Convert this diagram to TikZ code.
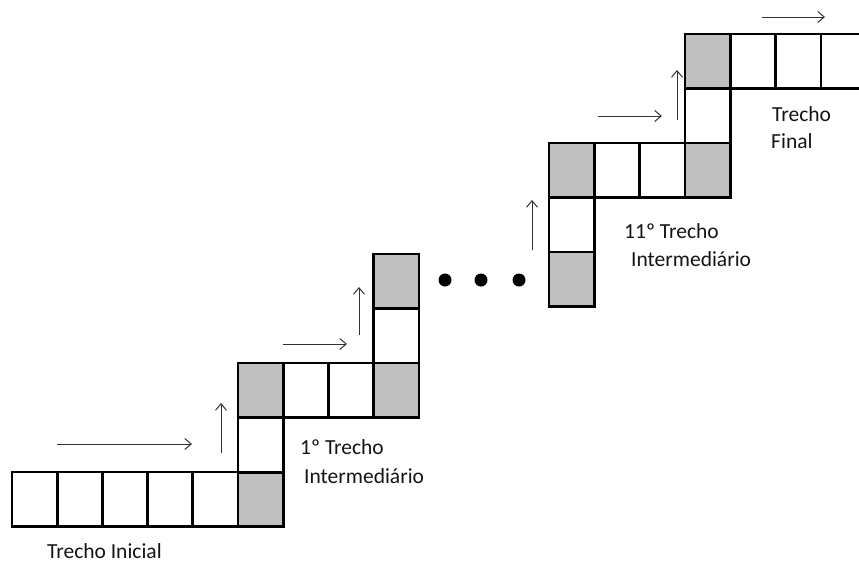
\documentclass[tikz,border=0pt]{standalone}
\usepackage{fontspec}
\setmainfont{Carlito}
\usetikzlibrary{positioning,arrows.meta}
\definecolor{tcGray}{RGB}{192,192,192}
\definecolor{tcArrow}{RGB}{50,50,50}
\definecolor{tcText}{RGB}{20,20,20}

\begin{document}
\begin{tikzpicture}[x=1pt, y=-1pt,
  cell/.style={draw, line width=2.7pt, minimum width=45.3pt, minimum height=54.5pt,
    inner sep=0pt, outer sep=0pt, anchor=north west},
  shaded/.style={cell, fill=tcGray},
  move/.style={-{Straight Barb[length=6.5pt,width=11pt]}, tcArrow, line width=1pt},
  dot/.style={circle, fill=black, minimum size=13pt, inner sep=0pt},
  lbl/.style={anchor=west, text=tcText, font=\fontsize{21.5}{25}\selectfont, inner sep=0pt}]
  \useasboundingbox (0,0) rectangle (859,565);
  \clip (0,0) rectangle (859,565);

  % Trecho inicial
  \foreach \i in {0,...,4}
    \node[cell] (ini\i) at ({12+45.2*\i},472) {};
  \node[shaded] (ini5) at (238,472) {};

  % 1o trecho intermediario
  \node[cell] (pa1) at (238,418) {};
  \node[shaded] (pa2) at (238,363) {};
  \node[cell] (pa3) at (283.3,363) {};
  \node[cell] (pa4) at (328.5,363) {};
  \node[shaded] (pa5) at (373.7,363) {};
  \node[cell] (pa6) at (373.7,308.5) {};
  \node[shaded] (pa7) at (373.7,254) {};

  % 11o trecho intermediario
  \node[shaded] (pk1) at (549,252) {};
  \node[cell] (pk2) at (549,197.5) {};
  \node[shaded] (pk3) at (549,143) {};
  \node[cell] (pk4) at (594.3,143) {};
  \node[cell] (pk5) at (639.6,143) {};
  \node[shaded] (pk6) at (685,143) {};
  \node[cell] (pk7) at (685,88.5) {};

  % Trecho final
  \node[shaded] (fim0) at (685,34) {};
  \foreach \i in {1,...,3}
    \node[cell] (fim\i) at ({685+45.3*\i},34) {};

  % Reticencias
  \node[dot] (d1) at (445,280) {};
  \node[dot] (d2) at (481,280) {};
  \node[dot] (d3) at (519,280) {};

  % Sentido de percurso
  \draw[move] (57,444) -- (192,444);
  \draw[move] (221,453) -- (221,403);
  \draw[move] (283,344) -- (347,344);
  \draw[move] (359,335) -- (359,287);
  \draw[move] (532,250) -- (532,200);
  \draw[move] (598,116) -- (662,116);
  \draw[move] (677,120) -- (677,70);
  \draw[move] (762,17) -- (825,17);

  % Rotulos
  \node[lbl] (tIni) at (47,551) {Trecho Inicial};
  \node[lbl] (tUm) at (300,447) {1º Trecho};
  \node[lbl] (tUmB) at (304,476) {Intermediário};
  \node[lbl] (tOnze) at (624,231) {11º Trecho};
  \node[lbl] (tOnzeB) at (631,259) {Intermediário};
  \node[lbl] (tFim) at (772,114) {Trecho};
  \node[lbl] (tFimB) at (771,141) {Final};
\end{tikzpicture}
\end{document}
